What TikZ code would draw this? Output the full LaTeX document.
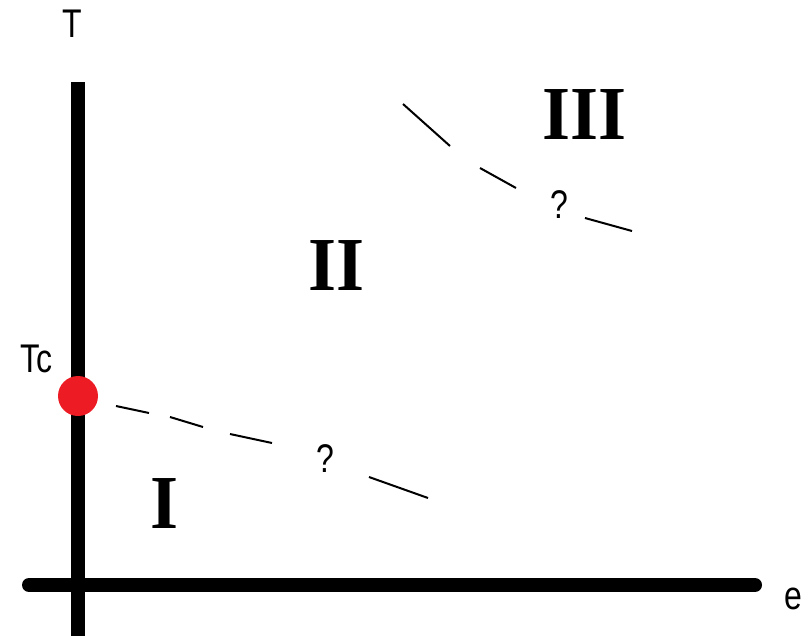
\documentclass[tikz,border=0pt]{standalone}
\usepackage{fontspec}
\setmainfont{Liberation Serif}
\newfontfamily\labfont{Liberation Sans}
\definecolor{dotred}{HTML}{ED1C24}
\begin{document}
\begin{tikzpicture}[x=1pt,y=-1pt,
  axis/.style={line width=14pt,black},
  seg/.style={line width=2pt,black},
  lab/.style={inner sep=0pt,yscale=1.25,font=\labfont\fontsize{32}{36}\selectfont},
  roman/.style={inner sep=0pt,yscale=1.06,font=\bfseries\fontsize{72}{80}\selectfont}]
\useasboundingbox (0,0) rectangle (809,635);
% axes
\coordinate (ytop) at (78,82);
\coordinate (ybot) at (78,640);
\coordinate (xl) at (29,585);
\coordinate (xr) at (755,585);
\draw[axis] (ybot) -- (ytop);
\draw[axis,line cap=round] (xl) -- (xr);
% labels
\node[lab] (T) at (72,24) {T};
\node[lab] (e) at (793,599) {e};
\node[lab] (Tc) at (36,359) {Tc};
% critical point
\node[circle,fill=dotred,minimum size=40pt,inner sep=0pt] (dot) at (78,396) {};
% lower boundary
\draw[seg] (116,406) -- (149,413);
\draw[seg] (170,417) -- (203,427);
\draw[seg] (230,434) -- (272,443);
\node[lab] (q1) at (325,459) {?};
\draw[seg] (369,477) -- (428,498);
% upper boundary
\draw[seg] (403,104) -- (450,146);
\draw[seg] (480,168) -- (516,188);
\node[lab] (q2) at (559,205) {?};
\draw[seg] (585,218) -- (632,231);
% region labels
\node[roman] (r3) at (585,115) {III};
\node[roman] (r2) at (337,265.5) {II};
\node[roman] (r1) at (164.5,504) {I};
\end{tikzpicture}
\end{document}
